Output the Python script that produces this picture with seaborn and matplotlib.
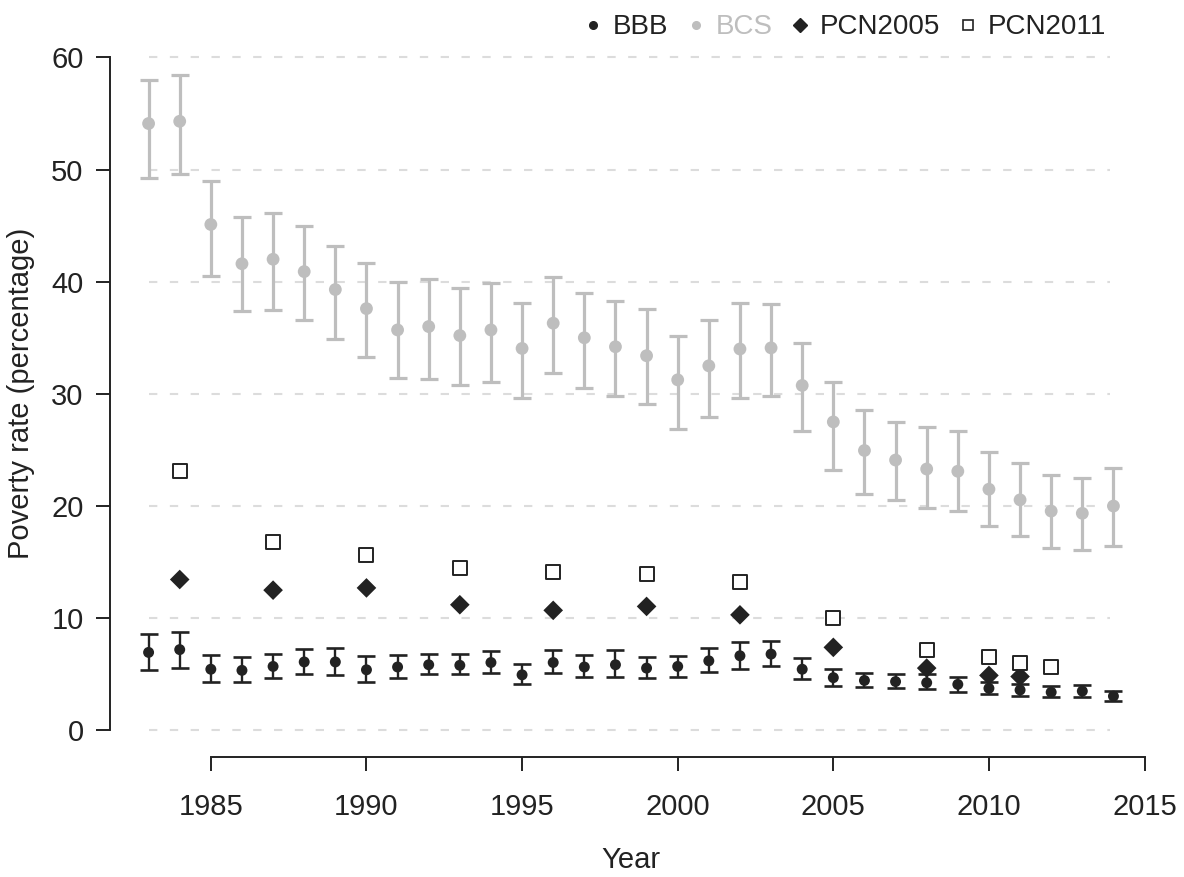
import numpy as np
import pandas as pd
import matplotlib.pyplot as plt
from matplotlib.lines import Line2D
import seaborn as sns

# Data
years = np.arange(1983, 2015)

bcs_mean = [54.1, 54.3, 45.1, 41.6, 42.0, 40.9, 39.3, 37.6, 35.7, 36.0, 35.2, 35.7,
            34.05, 36.3, 35.0, 34.2, 33.4, 31.25, 32.5, 34.0, 34.1, 30.75, 27.5,
            24.95, 24.1, 23.3, 23.1, 21.5, 20.55, 19.55, 19.35, 20.0]
bcs_upper = [57.95, 58.4, 49.0, 45.8, 46.1, 45.0, 43.15, 41.7, 40.0, 40.2, 39.4, 39.9,
             38.1, 40.4, 39.0, 38.3, 37.6, 35.2, 36.6, 38.1, 38.0, 34.55, 31.1,
             28.6, 27.45, 27.05, 26.7, 24.8, 23.8, 22.8, 22.5, 23.4]
bcs_lower = [49.2, 49.6, 40.55, 37.4, 37.5, 36.6, 34.9, 33.3, 31.4, 31.3, 30.8, 31.1,
             29.6, 31.9, 30.5, 29.8, 29.1, 26.9, 27.9, 29.6, 29.8, 26.7, 23.2,
             21.1, 20.5, 19.8, 19.6, 18.2, 17.35, 16.3, 16.1, 16.45]

bbb_mean = [6.95, 7.2, 5.45, 5.35, 5.7, 6.1, 6.1, 5.4, 5.65, 5.85, 5.8, 6.05,
            4.95, 6.05, 5.65, 5.85, 5.55, 5.7, 6.2, 6.65, 6.8, 5.45, 4.7,
            4.45, 4.35, 4.25, 4.1, 3.75, 3.6, 3.4, 3.5, 3.05]
bbb_upper = [8.55, 8.8, 6.7, 6.5, 6.85, 7.25, 7.35, 6.6, 6.7, 6.85, 6.8, 7.1,
             5.95, 7.15, 6.7, 7.15, 6.55, 6.65, 7.3, 7.85, 7.95, 6.45, 5.45,
             5.15, 5.0, 5.0, 4.8, 4.35, 4.15, 3.95, 4.05, 3.55]
bbb_lower = [5.35, 5.55, 4.3, 4.3, 4.65, 5.05, 4.9, 4.35, 4.65, 5.0, 5.0, 5.15,
             4.1, 5.1, 4.75, 4.8, 4.65, 4.8, 5.2, 5.5, 5.7, 4.55, 3.95,
             3.85, 3.75, 3.7, 3.45, 3.2, 3.1, 2.95, 3.0, 2.6]

pcn2005_years = [1984, 1987, 1990, 1993, 1996, 1999, 2002, 2005, 2008, 2010, 2011]
pcn2005 = [13.45, 12.5, 12.7, 11.2, 10.7, 11.05, 10.3, 7.4, 5.55, 4.9, 4.8]

pcn2011_years = [1984, 1987, 1990, 1993, 1996, 1999, 2002, 2005, 2008, 2010, 2011, 2012]
pcn2011 = [23.1, 16.8, 15.6, 14.45, 14.15, 13.95, 13.25, 10.0, 7.2, 6.55, 6.0, 5.65]

x_ticks = [1985, 1990, 1995, 2000, 2005, 2010, 2015]
y_ticks = [0, 10, 20, 30, 40, 50, 60]

dark = '#222222'
grey = '#bebebe'

sns.set_theme(style='white')
plt.rcParams['font.family'] = ['Liberation Sans', 'DejaVu Sans']

bcs = pd.DataFrame({'year': years, 'mean': bcs_mean, 'lo': bcs_lower, 'hi': bcs_upper})
bbb = pd.DataFrame({'year': years, 'mean': bbb_mean, 'lo': bbb_lower, 'hi': bbb_upper})

fig, ax = plt.subplots(figsize=(11.84, 8.77), dpi=100)
fig.subplots_adjust(left=0.0929, right=0.973, bottom=0.1365, top=0.9653)

# dashed guide lines
ax.hlines(y_ticks, 1983, 2013.9, colors='#dcdcdc', linestyles=(0, (4, 6)), lw=1.5, zorder=0)

# BCS with intervals
ax.errorbar(bcs['year'], bcs['mean'], yerr=[bcs['mean'] - bcs['lo'], bcs['hi'] - bcs['mean']],
            fmt='none', ecolor=grey, elinewidth=2.3, capsize=6.4, capthick=2.3, zorder=2)
sns.scatterplot(data=bcs, x='year', y='mean', color=grey, s=85, edgecolor='none',
                ax=ax, zorder=3)

# BBB with intervals
ax.errorbar(bbb['year'], bbb['mean'], yerr=[bbb['mean'] - bbb['lo'], bbb['hi'] - bbb['mean']],
            fmt='none', ecolor=dark, elinewidth=1.7, capsize=6.4, capthick=1.9, zorder=4)
sns.scatterplot(data=bbb, x='year', y='mean', color=dark, s=62, edgecolor='none',
                ax=ax, zorder=5)

# PCN series
sns.scatterplot(x=pcn2005_years, y=pcn2005, color=dark, marker='D', s=100,
                edgecolor='none', ax=ax, zorder=4.5)
sns.scatterplot(x=pcn2011_years, y=pcn2011, color='white', marker='s', s=90,
                edgecolor=dark, linewidth=1.4, ax=ax, zorder=6)

ax.set_xlim(1981.76, 2015.24)
ax.set_ylim(-2.4, 62.4)
ax.set_xticks(x_ticks)
ax.set_yticks(y_ticks)
ax.grid(False)
sns.despine(ax=ax)
ax.spines['left'].set_bounds(0, 60)
ax.spines['bottom'].set_bounds(1985, 2015)
for side in ['left', 'bottom']:
    ax.spines[side].set_linewidth(1.4)
    ax.spines[side].set_color(dark)
ax.tick_params(axis='both', direction='out', length=10, width=1.4, color=dark,
               labelsize=21, labelcolor=dark, left=True, bottom=True)
ax.tick_params(axis='y', pad=9)
ax.tick_params(axis='x', pad=16)
ax.set_xlabel('Year', fontsize=21, color=dark, labelpad=18)
ax.set_ylabel('Poverty rate (percentage)', fontsize=21, color=dark, labelpad=12)

handles = [
    Line2D([], [], ls='none', marker='o', color=dark, markersize=5.5),
    Line2D([], [], ls='none', marker='o', color=grey, markersize=5.5),
    Line2D([], [], ls='none', marker='D', color=dark, markersize=7),
    Line2D([], [], ls='none', marker='s', markerfacecolor='white', markeredgecolor=dark,
           markeredgewidth=1.2, markersize=6.5),
]
fig.legend(handles, ['BBB', 'BCS', 'PCN2005', 'PCN2011'], loc='upper right',
           bbox_to_anchor=(0.955, 1.012), ncol=4, frameon=False, fontsize=20,
           handletextpad=0.2, columnspacing=0.5, handlelength=1.0,
           labelcolor=[dark, grey, dark, dark])

fig.savefig('out.png', dpi=100)
